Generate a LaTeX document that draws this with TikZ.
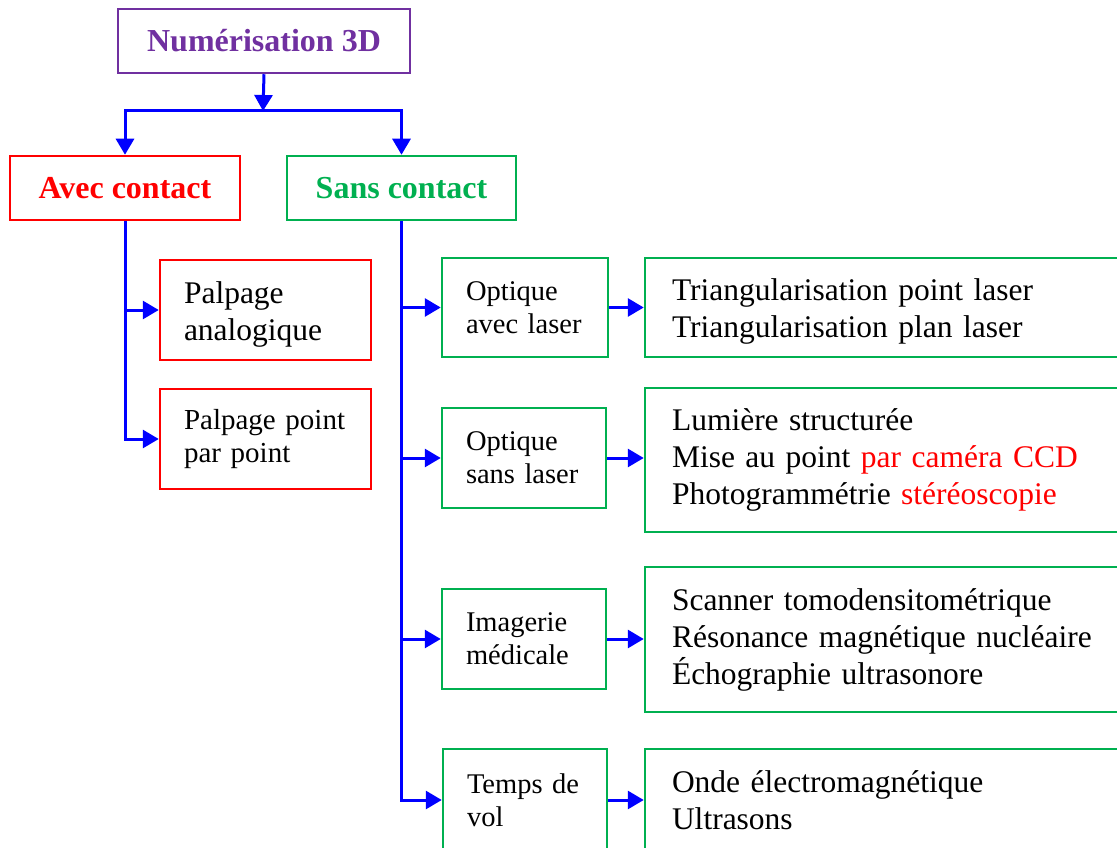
\documentclass[tikz,border=0pt]{standalone}
\usepackage{fontspec}
\setmainfont{Liberation Serif}
\usetikzlibrary{arrows.meta}

\definecolor{violetN}{HTML}{7030A0}
\definecolor{vertS}{HTML}{00B050}
\definecolor{rougeA}{HTML}{FF0000}

\tikzset{
    cadre/.style={draw, rectangle, line width=2.5pt, inner sep=0pt},
    titre/.style={cadre, font=\fontsize{32}{37}\selectfont\bfseries},
    feuille/.style={cadre, align=left, text=black},
    grand/.style={font=\fontsize{31.5}{37}\selectfont},
    petit/.style={font=\fontsize{28.5}{33}\selectfont},
    bas/.style={execute at begin node={\rule{0pt}{30pt}}},
    lien/.style={blue, line width=3pt},
    fleche/.style={lien, -{Triangle[length=16pt,width=18pt]}},
}

\begin{document}
\begin{tikzpicture}[x=1pt, y=-1pt]

    % Page
    \useasboundingbox (0,0) rectangle (1117,848);
    \clip (0,0) rectangle (1117,848);

    \def\xpalp{265.5}  % x palpage boxes
    \def\xopt{524}     % x small boxes
    \def\xres{890}     % x result boxes

    % Top levels
    \node[titre, violetN, minimum width=292pt, minimum height=64pt] (num)  at (264,41)    {Numérisation 3D};
    \node[titre, rougeA,  minimum width=230pt, minimum height=64pt] (avec) at (125,188)   {Avec contact};
    \node[titre, vertS,   minimum width=229pt, minimum height=64pt] (sans) at (401.5,188) {Sans contact};

    % Avec contact
    \node[feuille, grand, bas, draw=rougeA, minimum width=211pt, minimum height=100pt, text width=163pt] (palpA) at (\xpalp,310) {Palpage\\analogique};
    \node[feuille, font=\fontsize{29}{33}\selectfont, draw=rougeA, minimum width=211pt, minimum height=100pt, text width=163pt] (palpB) at (\xpalp,439) {Palpage point\\par point};

    % Sans contact
    \node[feuille, petit, draw=vertS, minimum width=166pt, minimum height=99pt,  text width=118pt] (optA)  at (525,307.5)  {Optique\\avec laser};
    \node[feuille, petit, draw=vertS, minimum width=164pt, minimum height=100pt, text width=116pt] (optB)  at (\xopt,458) {Optique\\sans laser};
    \node[feuille, petit, draw=vertS, minimum width=164pt, minimum height=100pt, text width=116pt] (imag)  at (\xopt,639) {Imagerie\\médicale};
    \node[feuille, petit, draw=vertS, minimum width=164pt, minimum height=102pt, text width=116pt] (temps) at (525,800)  {Temps de\\vol};

    % Results
    \node[feuille, grand, bas, draw=vertS, minimum width=490pt, minimum height=99pt,  text width=436pt] (resA) at (\xres,307.5)
        {Triangularisation point laser\\Triangularisation plan laser};
    \node[feuille, grand, draw=vertS, minimum width=490pt, minimum height=144pt, text width=436pt] (resB) at (\xres,460)
        {Lumière structurée\\Mise au point \textcolor{red}{par caméra CCD}\\Photogrammétrie \textcolor{red}{stéréoscopie}};
    \node[feuille, grand, draw=vertS, minimum width=490pt, minimum height=145pt, text width=436pt] (resC) at (\xres,639.5)
        {Scanner tomodensitométrique\\Résonance magnétique nucléaire\\Échographie ultrasonore};
    \node[feuille, grand, draw=vertS, minimum width=490pt, minimum height=102pt, text width=436pt] (resD) at (\xres,800)
        {Onde électromagnétique\\Ultrasons};

    % Connectors
    \coordinate (bar) at (263,111);
    \draw[fleche] (num.south) -- (bar);
    \draw[fleche] (bar) -| (avec.north);
    \draw[fleche] (bar) -| (sans.north);

    \draw[fleche] (avec.south) |- (palpA.west);
    \draw[fleche] (avec.south) |- (palpB.west);

    \foreach \n in {optA, optB, imag, temps}
        \draw[fleche] (sans.south) |- (\n.west);

    \foreach \a/\b in {optA/resA, optB/resB, imag/resC, temps/resD}
        \draw[fleche] (\a.east) -- (\a.east -| \b.west);

\end{tikzpicture}
\end{document}
